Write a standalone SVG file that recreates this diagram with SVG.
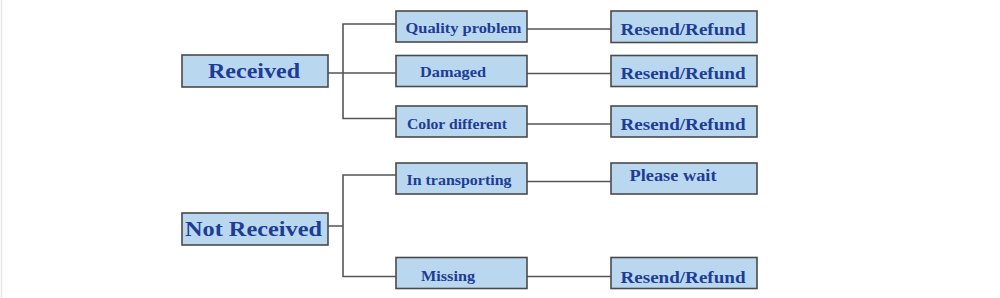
<svg xmlns="http://www.w3.org/2000/svg" width="1000" height="298" viewBox="0 0 1000 298">
<style>
.box{fill:#b9d8ef;stroke:#4a4a4a;stroke-width:1.6}
.t{font-family:"Liberation Serif","DejaVu Serif",serif;fill:#1e3c96;text-anchor:middle;font-weight:bold}
.big{font-size:21px}
.mid{font-size:16px}
.sm{font-size:14px}
.conn{fill:none;stroke:#555;stroke-width:1.6}
</style>
<rect width="1000" height="298" fill="#ffffff"/>
<line x1="1.5" y1="0" x2="1.5" y2="298" stroke="#e6e6e6" stroke-width="1.5"/>
<g id="connectors">
<path class="conn" d="M328 73H396M396 24H343V118.5H396"/>
<path class="conn" d="M527 29H611M527 73.5H611M527 124H611"/>
<path class="conn" d="M328 226H343M396 175H343V276.5H396"/>
<path class="conn" d="M527 181.5H611M527 276.5H611"/>
</g>
<g id="received">
<rect class="box" x="182" y="55" width="146" height="32"/>
<text class="t big" x="254" y="78" textLength="92" lengthAdjust="spacingAndGlyphs">Received</text>
</g>
<g id="quality">
<rect class="box" x="396" y="11" width="131" height="31"/>
<text class="t sm" x="463.5" y="33" textLength="116" lengthAdjust="spacingAndGlyphs">Quality problem</text>
</g>
<g id="damaged">
<rect class="box" x="396" y="55.5" width="131" height="31"/>
<text class="t sm" x="453" y="77" textLength="66" lengthAdjust="spacingAndGlyphs">Damaged</text>
</g>
<g id="color">
<rect class="box" x="396" y="106" width="131" height="31"/>
<text class="t sm" x="457" y="128.5" textLength="100" lengthAdjust="spacingAndGlyphs">Color different</text>
</g>
<g id="resend1">
<rect class="box" x="611" y="11" width="146" height="31.5"/>
<text class="t mid" x="683" y="35" textLength="125" lengthAdjust="spacingAndGlyphs">Resend/Refund</text>
</g>
<g id="resend2">
<rect class="box" x="611" y="55.5" width="146" height="31"/>
<text class="t mid" x="683" y="79" textLength="125" lengthAdjust="spacingAndGlyphs">Resend/Refund</text>
</g>
<g id="resend3">
<rect class="box" x="611" y="106" width="146" height="31"/>
<text class="t mid" x="683" y="130" textLength="125" lengthAdjust="spacingAndGlyphs">Resend/Refund</text>
</g>
<g id="notreceived">
<rect class="box" x="182" y="213" width="146" height="32"/>
<text class="t big" x="253.5" y="236" textLength="137" lengthAdjust="spacingAndGlyphs">Not Received</text>
</g>
<g id="transporting">
<rect class="box" x="396" y="163" width="131" height="31"/>
<text class="t sm" x="459" y="185" textLength="105" lengthAdjust="spacingAndGlyphs">In transporting</text>
</g>
<g id="missing">
<rect class="box" x="396" y="257.5" width="131" height="31"/>
<text class="t sm" x="448" y="280.5" textLength="54" lengthAdjust="spacingAndGlyphs">Missing</text>
</g>
<g id="wait">
<rect class="box" x="611" y="163" width="146" height="31"/>
<text class="t mid" x="673" y="181" textLength="87" lengthAdjust="spacingAndGlyphs">Please wait</text>
</g>
<g id="resend4">
<rect class="box" x="611" y="257.5" width="146" height="31"/>
<text class="t mid" x="683" y="282.5" textLength="125" lengthAdjust="spacingAndGlyphs">Resend/Refund</text>
</g>
</svg>
